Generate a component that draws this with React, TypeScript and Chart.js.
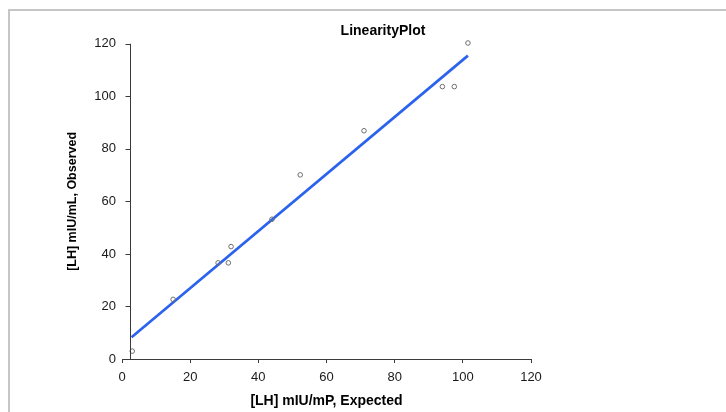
import React, { useEffect, useRef } from "react";
import { Chart, registerables } from "chart.js";

Chart.register(...registerables);

const expected = [3, 15, 28.2, 31.2, 32, 44, 52.3, 71, 94, 97.5, 101.5];
const observed = [3, 22.7, 36.6, 36.6, 42.8, 53.2, 70.1, 86.9, 103.7, 103.7, 120.3];
const trendX = [2.8, 101.5];
const trendY = [8.3, 115.5];
const axisTicks = [0, 20, 40, 60, 80, 100, 120];
const yAxisCrossAt = 2.35;

const FONT = "'Liberation Sans', Arial, sans-serif";

const yAxisLinePlugin = {
  id: "yAxisLine",
  afterDatasetsDraw(chart: any) {
    const xs = chart.scales.x;
    const ys = chart.scales.y;
    const ctx = chart.ctx;
    const px = Math.round(xs.getPixelForValue(yAxisCrossAt)) + 0.5;
    ctx.save();
    ctx.strokeStyle = "#3a3a3a";
    ctx.lineWidth = 1;
    ctx.beginPath();
    ctx.moveTo(px, ys.getPixelForValue(0));
    ctx.lineTo(px, ys.getPixelForValue(120));
    axisTicks.forEach((t) => {
      const py = Math.round(ys.getPixelForValue(t)) + 0.5;
      ctx.moveTo(px - 5, py);
      ctx.lineTo(px, py);
    });
    ctx.stroke();
    ctx.restore();
  },
};

export default function App() {
  const ref = useRef<HTMLCanvasElement | null>(null);

  useEffect(() => {
    if (!ref.current) return;
    const chart = new Chart(ref.current, {
      type: "scatter",
      data: {
        datasets: [
          {
            label: "Observed",
            data: expected.map((x, i) => ({ x, y: observed[i] })),
            pointStyle: "circle",
            pointRadius: 2.3,
            pointBorderWidth: 1,
            borderColor: "#6e6e6e",
            backgroundColor: "rgba(255,255,255,0)",
            showLine: false,
            clip: false,
          },
          {
            label: "Trend",
            data: trendX.map((x, i) => ({ x, y: trendY[i] })),
            showLine: true,
            pointRadius: 0,
            borderColor: "#2b63ee",
            borderWidth: 2.7,
            backgroundColor: "#2b63ee",
            clip: false,
          },
        ],
      },
      options: {
        animation: false,
        responsive: false,
        layout: { padding: { left: 40, right: 0, top: 0, bottom: 0 } },
        plugins: {
          legend: { display: false },
          tooltip: { enabled: false },
          title: {
            display: true,
            text: "LinearityPlot",
            color: "#000",
            font: { family: FONT, size: 14, weight: "bold" },
            padding: { top: 23, bottom: 4 },
          },
        },
        scales: {
          x: {
            type: "linear",
            min: 0,
            max: 120,
            afterFit: (s: any) => {
              s.height = 53;
            },
            ticks: {
              stepSize: 20,
              color: "#1a1a1a",
              padding: 7,
              font: { family: FONT, size: 13 },
            },
            grid: {
              display: true,
              drawOnChartArea: false,
              drawTicks: true,
              tickLength: 4,
              color: "#3a3a3a",
            },
            border: { display: true, color: "#3a3a3a", width: 1 },
            title: {
              display: true,
              text: "[LH] mIU/mP, Expected",
              color: "#000",
              font: { family: FONT, size: 14, weight: "bold" },
              padding: { top: 0, bottom: 2 },
            },
          },
          y: {
            type: "linear",
            position: "left",
            min: 0,
            max: 120,
            afterFit: (s: any) => {
              s.width = 82;
            },
            ticks: {
              stepSize: 20,
              color: "#1a1a1a",
              padding: 6,
              font: { family: FONT, size: 13 },
            },
            grid: { display: false, drawTicks: false },
            border: { display: false },
            title: {
              display: true,
              text: "[LH] mIU/mL, Observed",
              color: "#000",
              font: { family: FONT, size: 12.5, weight: "bold" },
              padding: { top: 25, bottom: 0 },
            },
          },
          y2: {
            type: "linear",
            position: "right",
            display: true,
            afterFit: (s: any) => {
              s.width = 195;
            },
            ticks: { display: false },
            grid: { display: false, drawTicks: false },
            border: { display: false },
          },
        },
      } as any,
      plugins: [yAxisLinePlugin],
    });
    return () => chart.destroy();
  }, []);

  return (
    <div style={{ position: "fixed", left: 0, top: 0, width: 726, height: 412, background: "#fff" }}>
      <div
        style={{
          position: "absolute",
          left: 8,
          top: 9,
          right: 0,
          bottom: 0,
          borderTop: "2px solid #c6c6c6",
          borderLeft: "2px solid #c6c6c6",
        }}
      />
      <canvas
        ref={ref}
        width={726}
        height={412}
        style={{ position: "absolute", left: 0, top: 0, width: 726, height: 412 }}
      />
    </div>
  );
}
